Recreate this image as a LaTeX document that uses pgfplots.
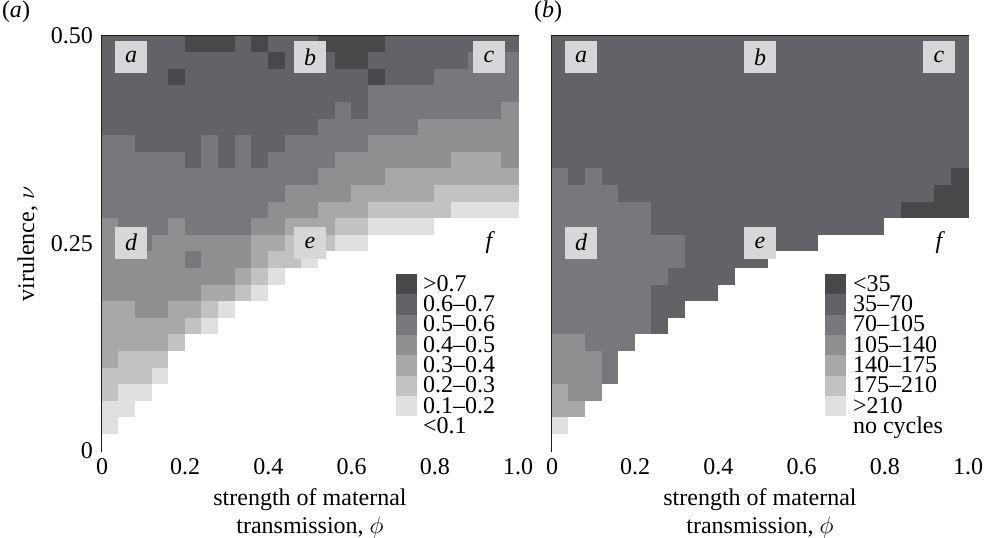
\documentclass[border=0pt]{standalone}
\usepackage{pgfplots}
\pgfplotsset{compat=1.18}
\usepackage{fontspec}
\setmainfont{Liberation Serif}
\definecolor{g1}{RGB}{223,224,226}
\definecolor{g2}{RGB}{193,194,196}
\definecolor{g3}{RGB}{167,168,170}
\definecolor{g4}{RGB}{142,143,145}
\definecolor{g5}{RGB}{119,120,123}
\definecolor{g6}{RGB}{98,99,102}
\definecolor{g7}{RGB}{72,72,75}
\definecolor{boxgray}{RGB}{214,215,217}
\definecolor{framec}{RGB}{35,31,32}
\tikzset{lab/.style={fill=boxgray, minimum width=16pt, minimum height=16pt, inner sep=0pt, font=\fontsize{12}{12}\selectfont\itshape}}
\pgfplotsset{
 panel/.style={
  scale only axis, width=208pt, height=207.5pt, anchor=south west,
  xmin=0, xmax=1, ymin=0, ymax=0.5, enlargelimits=false, axis on top,
  axis line style={line width=1.3pt, draw=framec},
  major tick length=0pt,
  xtick={0,0.2,0.4,0.6,0.8,1}, xticklabels={0,0.2,0.4,0.6,0.8,1.0},
  ytick={0,0.25,0.5},
  ticklabel style={font=\fontsize{12}{13}\selectfont},
  yticklabel style={xshift=-1pt},
  /pgf/number format/assume math mode=true,
  xlabel={strength of maternal\\transmission, $\phi$},
  xlabel style={align=center, font=\fontsize{12}{14}\selectfont},
  colormap={bins}{rgb255=(255,255,255) rgb255=(223,224,226) rgb255=(193,194,196) rgb255=(167,168,170) rgb255=(142,143,145) rgb255=(119,120,123) rgb255=(98,99,102) rgb255=(72,72,75)},
  point meta min=0, point meta max=7,
 },
 cells/.style={scatter, only marks, mark=square*, mark size=4.25pt, line width=0.2pt,
   scatter/use mapped color={draw=mapped color, fill=mapped color},
   point meta=explicit, forget plot},
}
\begin{document}
\begin{tikzpicture}[x=1pt,y=1pt]
\begin{axis}[panel, at={(51pt,43pt)},
  yticklabels={0,0.25,0.50}]
\addplot[cells] table[row sep=\\, meta=c,
   x expr={0.02+0.04*(\coordindex-25*floor((\coordindex+0.5)/25))},
   y expr={0.49-0.02*floor((\coordindex+0.5)/25)}] {
c\\
6\\6\\6\\6\\6\\7\\7\\7\\6\\7\\6\\6\\6\\7\\7\\7\\7\\6\\6\\6\\6\\6\\6\\6\\6\\
6\\6\\6\\6\\6\\6\\6\\6\\6\\6\\7\\6\\6\\6\\7\\7\\6\\6\\6\\6\\6\\6\\5\\5\\5\\
6\\6\\6\\6\\7\\6\\6\\6\\6\\6\\6\\6\\6\\6\\6\\6\\7\\6\\6\\6\\5\\5\\5\\5\\5\\
6\\6\\6\\6\\6\\6\\6\\6\\6\\6\\6\\6\\6\\6\\6\\6\\5\\5\\5\\5\\5\\5\\5\\5\\5\\
6\\6\\6\\6\\6\\6\\6\\6\\6\\6\\6\\6\\6\\6\\5\\6\\5\\5\\5\\5\\5\\5\\5\\5\\4\\
6\\6\\6\\6\\6\\6\\6\\6\\6\\6\\6\\6\\6\\5\\5\\5\\5\\5\\5\\4\\4\\4\\4\\4\\4\\
5\\5\\6\\6\\6\\6\\5\\6\\5\\6\\6\\5\\5\\5\\5\\5\\4\\4\\4\\4\\4\\4\\4\\4\\4\\
5\\5\\5\\5\\5\\6\\5\\6\\5\\6\\5\\5\\5\\5\\4\\4\\4\\4\\4\\4\\4\\3\\3\\3\\4\\
5\\5\\5\\5\\5\\5\\5\\5\\5\\5\\5\\5\\5\\4\\4\\4\\4\\3\\3\\3\\3\\3\\3\\3\\3\\
5\\5\\5\\5\\5\\5\\5\\5\\5\\5\\5\\4\\4\\4\\4\\3\\3\\3\\3\\3\\2\\2\\2\\2\\2\\
5\\5\\5\\5\\5\\5\\5\\5\\5\\5\\4\\4\\4\\3\\3\\3\\2\\2\\2\\2\\2\\1\\1\\1\\1\\
4\\5\\5\\5\\4\\5\\5\\5\\5\\4\\4\\3\\3\\3\\2\\2\\1\\1\\1\\1\\0\\0\\0\\0\\0\\
4\\5\\5\\4\\4\\4\\4\\4\\4\\3\\3\\2\\2\\2\\1\\1\\0\\0\\0\\0\\0\\0\\0\\0\\0\\
4\\4\\4\\4\\4\\5\\4\\4\\4\\3\\2\\2\\1\\0\\0\\0\\0\\0\\0\\0\\0\\0\\0\\0\\0\\
4\\4\\4\\4\\4\\4\\4\\4\\3\\2\\1\\0\\0\\0\\0\\0\\0\\0\\0\\0\\0\\0\\0\\0\\0\\
4\\4\\4\\4\\4\\4\\3\\3\\2\\1\\0\\0\\0\\0\\0\\0\\0\\0\\0\\0\\0\\0\\0\\0\\0\\
3\\3\\4\\4\\3\\3\\2\\1\\0\\0\\0\\0\\0\\0\\0\\0\\0\\0\\0\\0\\0\\0\\0\\0\\0\\
3\\3\\3\\3\\3\\2\\1\\0\\0\\0\\0\\0\\0\\0\\0\\0\\0\\0\\0\\0\\0\\0\\0\\0\\0\\
3\\3\\3\\3\\2\\0\\0\\0\\0\\0\\0\\0\\0\\0\\0\\0\\0\\0\\0\\0\\0\\0\\0\\0\\0\\
3\\2\\2\\2\\0\\0\\0\\0\\0\\0\\0\\0\\0\\0\\0\\0\\0\\0\\0\\0\\0\\0\\0\\0\\0\\
2\\2\\2\\1\\0\\0\\0\\0\\0\\0\\0\\0\\0\\0\\0\\0\\0\\0\\0\\0\\0\\0\\0\\0\\0\\
2\\1\\1\\0\\0\\0\\0\\0\\0\\0\\0\\0\\0\\0\\0\\0\\0\\0\\0\\0\\0\\0\\0\\0\\0\\
1\\1\\0\\0\\0\\0\\0\\0\\0\\0\\0\\0\\0\\0\\0\\0\\0\\0\\0\\0\\0\\0\\0\\0\\0\\
1\\0\\0\\0\\0\\0\\0\\0\\0\\0\\0\\0\\0\\0\\0\\0\\0\\0\\0\\0\\0\\0\\0\\0\\0\\
0\\0\\0\\0\\0\\0\\0\\0\\0\\0\\0\\0\\0\\0\\0\\0\\0\\0\\0\\0\\0\\0\\0\\0\\0\\
};
\end{axis}
\begin{axis}[panel, at={(276pt,43pt)},
  yticklabels={}]
\addplot[cells] table[row sep=\\, meta=c,
   x expr={0.02+0.04*(\coordindex-25*floor((\coordindex+0.5)/25))},
   y expr={0.49-0.02*floor((\coordindex+0.5)/25)}] {
c\\
6\\6\\6\\6\\6\\6\\6\\6\\6\\6\\6\\6\\6\\6\\6\\6\\6\\6\\6\\6\\6\\6\\6\\6\\6\\
6\\6\\6\\6\\6\\6\\6\\6\\6\\6\\6\\6\\6\\6\\6\\6\\6\\6\\6\\6\\6\\6\\6\\6\\6\\
6\\6\\6\\6\\6\\6\\6\\6\\6\\6\\6\\6\\6\\6\\6\\6\\6\\6\\6\\6\\6\\6\\6\\6\\6\\
6\\6\\6\\6\\6\\6\\6\\6\\6\\6\\6\\6\\6\\6\\6\\6\\6\\6\\6\\6\\6\\6\\6\\6\\6\\
6\\6\\6\\6\\6\\6\\6\\6\\6\\6\\6\\6\\6\\6\\6\\6\\6\\6\\6\\6\\6\\6\\6\\6\\6\\
6\\6\\6\\6\\6\\6\\6\\6\\6\\6\\6\\6\\6\\6\\6\\6\\6\\6\\6\\6\\6\\6\\6\\6\\6\\
6\\6\\6\\6\\6\\6\\6\\6\\6\\6\\6\\6\\6\\6\\6\\6\\6\\6\\6\\6\\6\\6\\6\\6\\6\\
6\\6\\6\\6\\6\\6\\6\\6\\6\\6\\6\\6\\6\\6\\6\\6\\6\\6\\6\\6\\6\\6\\6\\6\\6\\
5\\6\\5\\6\\6\\6\\6\\6\\6\\6\\6\\6\\6\\6\\6\\6\\6\\6\\6\\6\\6\\6\\6\\6\\7\\
5\\5\\5\\5\\6\\6\\6\\6\\6\\6\\6\\6\\6\\6\\6\\6\\6\\6\\6\\6\\6\\6\\6\\7\\7\\
5\\5\\5\\5\\5\\5\\6\\6\\6\\6\\6\\6\\6\\6\\6\\6\\6\\6\\6\\6\\6\\7\\7\\7\\7\\
5\\5\\5\\5\\5\\5\\6\\6\\6\\6\\6\\6\\6\\6\\6\\6\\6\\6\\6\\6\\0\\0\\0\\0\\0\\
5\\5\\5\\5\\5\\5\\5\\5\\6\\6\\6\\6\\6\\6\\6\\6\\0\\0\\0\\0\\0\\0\\0\\0\\0\\
5\\5\\5\\5\\5\\5\\5\\5\\6\\6\\6\\6\\6\\0\\0\\0\\0\\0\\0\\0\\0\\0\\0\\0\\0\\
5\\5\\5\\5\\5\\5\\5\\6\\6\\6\\6\\0\\0\\0\\0\\0\\0\\0\\0\\0\\0\\0\\0\\0\\0\\
5\\5\\5\\5\\5\\5\\6\\6\\6\\6\\0\\0\\0\\0\\0\\0\\0\\0\\0\\0\\0\\0\\0\\0\\0\\
5\\5\\5\\5\\5\\5\\6\\6\\0\\0\\0\\0\\0\\0\\0\\0\\0\\0\\0\\0\\0\\0\\0\\0\\0\\
5\\5\\5\\5\\5\\5\\6\\0\\0\\0\\0\\0\\0\\0\\0\\0\\0\\0\\0\\0\\0\\0\\0\\0\\0\\
4\\4\\5\\5\\5\\0\\0\\0\\0\\0\\0\\0\\0\\0\\0\\0\\0\\0\\0\\0\\0\\0\\0\\0\\0\\
4\\4\\4\\5\\0\\0\\0\\0\\0\\0\\0\\0\\0\\0\\0\\0\\0\\0\\0\\0\\0\\0\\0\\0\\0\\
4\\4\\4\\5\\0\\0\\0\\0\\0\\0\\0\\0\\0\\0\\0\\0\\0\\0\\0\\0\\0\\0\\0\\0\\0\\
3\\4\\4\\0\\0\\0\\0\\0\\0\\0\\0\\0\\0\\0\\0\\0\\0\\0\\0\\0\\0\\0\\0\\0\\0\\
3\\3\\0\\0\\0\\0\\0\\0\\0\\0\\0\\0\\0\\0\\0\\0\\0\\0\\0\\0\\0\\0\\0\\0\\0\\
1\\0\\0\\0\\0\\0\\0\\0\\0\\0\\0\\0\\0\\0\\0\\0\\0\\0\\0\\0\\0\\0\\0\\0\\0\\
0\\0\\0\\0\\0\\0\\0\\0\\0\\0\\0\\0\\0\\0\\0\\0\\0\\0\\0\\0\\0\\0\\0\\0\\0\\
};
\end{axis}
% y label
\node[rotate=90, anchor=base, font=\fontsize{12}{14}\selectfont] at (17,146.5) {virulence, $\nu$};
% panel corner labels
\foreach \ox in {51,276}{
  \node[lab] at ({\ox+14.56},240) {a};
  \node[lab] at ({\ox+104},240) {b};
  \node[lab] at ({\ox+193.44},240) {c};
  \node[lab] at ({\ox+14.56},147.2) {d};
  \node[lab] at ({\ox+104},147.2) {e};
  \node[lab, fill=none] at ({\ox+193.44},147.2) {f};
}
% legends
\foreach \c/\t [count=\i from 0] in {g7/{>0.7}, g6/{0.6--0.7}, g5/{0.5--0.6}, g4/{0.4--0.5}, g3/{0.3--0.4}, g2/{0.2--0.3}, g1/{0.1--0.2}, white/{<0.1}}{
  \fill[\c] (198,{131.5-\i*10.15}) rectangle ++(10.6,-10.15);
  \node[anchor=base west, inner sep=0pt, font=\fontsize{12}{12}\selectfont] at (211.3,{131.5-\i*10.15-10.15+1.5}) {\t};
}
\foreach \c/\t [count=\i from 0] in {g7/{<35}, g6/{35--70}, g5/{70--105}, g4/{105--140}, g3/{140--175}, g2/{175--210}, g1/{>210}, white/{no cycles}}{
  \fill[\c] (412.5,{131.5-\i*10.15}) rectangle ++(10.6,-10.15);
  \node[anchor=base west, inner sep=0pt, font=\fontsize{12}{12}\selectfont] at (426.3,{131.5-\i*10.15-10.15+1.5}) {\t};
}
\node[font=\fontsize{12}{12}\selectfont] at (8,262.5) {(\textit{a})};
\node[font=\fontsize{12}{12}\selectfont] at (274,262.5) {(\textit{b})};
\pgfresetboundingbox
\path (0,0) rectangle (492,268.5);
\end{tikzpicture}
\end{document}
